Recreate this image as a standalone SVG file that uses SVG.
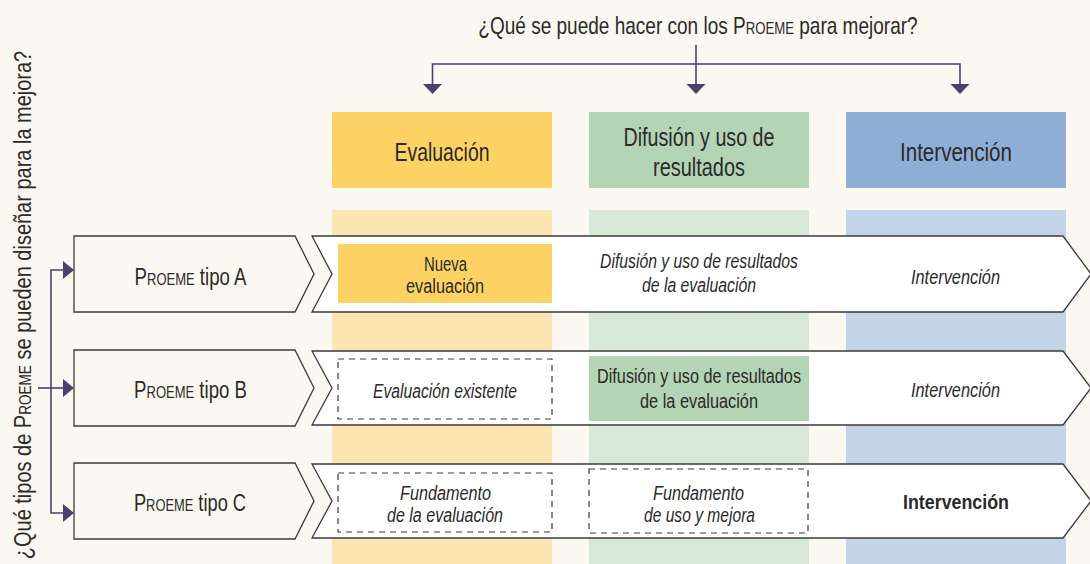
<svg xmlns="http://www.w3.org/2000/svg" width="1090" height="564" viewBox="0 0 1090 564">
<defs>
<style>
text{font-family:"Liberation Sans",Arial,sans-serif;fill:#2b2a29;text-anchor:middle}
.sc{font-variant:small-caps}
.it{font-style:italic}
.b{font-weight:bold}
.hdr{font-size:26px}
.row{font-size:20px}
.lbl{font-size:24px}
.band{fill:#ffffff;stroke:#3a3a3a;stroke-width:1.3}
.lbox{fill:#fbf8f1;stroke:#3a3a3a;stroke-width:1.3}
.dash{fill:none;stroke:#3a3a3a;stroke-width:1.2;stroke-dasharray:6 5}
.conn{fill:none;stroke:#4b4170;stroke-width:1.6}
.ah{fill:#4b4170}
</style>
</defs>
<rect x="0" y="0" width="1090" height="564" fill="#fbf8f1"/>

<g id="strips">
<rect x="332" y="210" width="220" height="354" fill="#fce5b0"/>
<rect x="589" y="210" width="220" height="354" fill="#d7e8d7"/>
<rect x="846" y="210" width="220" height="354" fill="#c3d3e8"/>
</g>

<text class="lbl" transform="translate(698 34) scale(0.7925 1)">¿Qué se puede hacer con los <tspan class="sc">Proeme</tspan> para mejorar?</text>
<text class="lbl" transform="translate(31 305) rotate(-90) scale(0.8325 1)">¿Qué tipos de <tspan class="sc">Proeme</tspan> se pueden diseñar para la mejora?</text>

<g id="connectors">
<path class="conn" d="M696,45 V84"/>
<path class="conn" d="M432.5,84 V64 H960 V84"/>
<path class="ah" d="M423,84 L442,84 L432.5,94 z"/>
<path class="ah" d="M686.5,84 L705.5,84 L696,94 z"/>
<path class="ah" d="M950.5,84 L969.5,84 L960,94 z"/>
<path class="conn" d="M64,270 H51 V513 H64"/>
<path class="conn" d="M38,388 H64"/>
<path class="ah" d="M63,261 L74,270 L63,279 z"/>
<path class="ah" d="M63,379 L74,388 L63,397 z"/>
<path class="ah" d="M63,504 L74,513 L63,522 z"/>
</g>

<g id="hdr-evaluacion">
<rect x="332" y="112" width="220" height="76" fill="#fdd264"/>
<text x="442" y="161" class="hdr" textLength="95" lengthAdjust="spacingAndGlyphs">Evaluación</text>
</g>
<g id="hdr-difusion">
<rect x="589" y="112" width="220" height="76" fill="#b3d4b5"/>
<text x="699" y="146" class="hdr" textLength="151" lengthAdjust="spacingAndGlyphs">Difusión y uso de</text>
<text x="699" y="176" class="hdr" textLength="92" lengthAdjust="spacingAndGlyphs">resultados</text>
</g>
<g id="hdr-intervencion">
<rect x="846" y="112" width="220" height="76" fill="#8eaed6"/>
<text x="956" y="161" class="hdr" textLength="112" lengthAdjust="spacingAndGlyphs">Intervención</text>
</g>

<g id="row-a">
<path class="band" d="M312,236 H1063 L1091,274 L1063,312 H312 L332,274 z"/>
<path class="lbox" d="M74,236 H295 L314,274 L295,312 H74 z"/>
<text class="lbl" transform="translate(190.5 285) scale(0.7756 1)"><tspan class="sc">Proeme</tspan> tipo A</text>
<rect x="338" y="244" width="214" height="59" fill="#fdd264"/>
<text x="445.5" y="271" class="row" textLength="43" lengthAdjust="spacingAndGlyphs">Nueva</text>
<text x="445" y="293" class="row" textLength="78" lengthAdjust="spacingAndGlyphs">evaluación</text>
<text x="699" y="268" class="row it" textLength="198" lengthAdjust="spacingAndGlyphs">Difusión y uso de resultados</text>
<text x="699" y="292" class="row it" textLength="114" lengthAdjust="spacingAndGlyphs">de la evaluación</text>
<text x="955.5" y="284" class="row it" textLength="89" lengthAdjust="spacingAndGlyphs">Intervención</text>
</g>

<g id="row-b">
<path class="band" d="M312,351 H1063 L1091,388 L1063,425 H312 L332,388 z"/>
<path class="lbox" d="M74,350 H295 L314,388 L295,426 H74 z"/>
<text class="lbl" transform="translate(190.5 398) scale(0.7756 1)"><tspan class="sc">Proeme</tspan> tipo B</text>
<rect class="dash" x="338" y="359" width="214" height="60"/>
<text x="445" y="398" class="row it" textLength="144" lengthAdjust="spacingAndGlyphs">Evaluación existente</text>
<rect x="589" y="356" width="220" height="65" fill="#b3d4b5"/>
<text x="699" y="383" class="row" textLength="204" lengthAdjust="spacingAndGlyphs">Difusión y uso de resultados</text>
<text x="699" y="408" class="row" textLength="118" lengthAdjust="spacingAndGlyphs">de la evaluación</text>
<text x="955.5" y="397" class="row it" textLength="89" lengthAdjust="spacingAndGlyphs">Intervención</text>
</g>

<g id="row-c">
<path class="band" d="M312,464 H1063 L1091,501 L1063,538 H312 L332,501 z"/>
<path class="lbox" d="M74,463 H295 L314,501 L295,539 H74 z"/>
<text class="lbl" transform="translate(190 511) scale(0.762 1)"><tspan class="sc">Proeme</tspan> tipo C</text>
<rect class="dash" x="338" y="473" width="214" height="59"/>
<text x="445.5" y="500" class="row it" textLength="91" lengthAdjust="spacingAndGlyphs">Fundamento</text>
<text x="445" y="522" class="row it" textLength="116" lengthAdjust="spacingAndGlyphs">de la evaluación</text>
<rect class="dash" x="589" y="469" width="219" height="64"/>
<text x="698.5" y="500" class="row it" textLength="91" lengthAdjust="spacingAndGlyphs">Fundamento</text>
<text x="699.5" y="522" class="row it" textLength="111" lengthAdjust="spacingAndGlyphs">de uso y mejora</text>
<text x="956" y="509" class="row b" textLength="106" lengthAdjust="spacingAndGlyphs">Intervención</text>
</g>
</svg>
